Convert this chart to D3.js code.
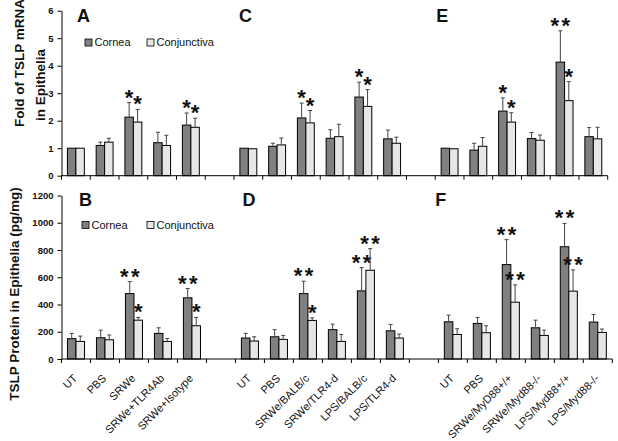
<!DOCTYPE html>
<html><head><meta charset="utf-8">
<script src="https://cdn.jsdelivr.net/npm/d3@7"></script>
<style>
body{margin:0;background:#fff;}
svg{display:block;font-family:"Liberation Sans",Arial,sans-serif;}
</style></head>
<body><svg id="c" width="618" height="441"></svg>
<script>
const categories = ["UT","PBS","SRWe","SRWe+TLR4Ab","SRWe+Isotype","",
  "UT","PBS","SRWe/BALB/c","SRWe/TLR4-d","LPS/BALB/c","LPS/TLR4-d","",
  "UT","PBS","SRWe/MyD88+/+","SRWe/Myd88-/-","LPS/Myd88+/+","LPS/Myd88-/-"];
const seriesNames = ["Cornea","Conjunctiva"];

const mrnaCornea    = [1.0,1.10,2.13,1.20,1.84,null, 1.0,1.07,2.10,1.36,2.86,1.34,null, 1.0,0.93,2.35,1.35,4.13,1.42];
const mrnaCorneaErr = [0,0.12,0.53,0.38,0.44,null, 0,0.11,0.54,0.31,0.54,0.32,null, 0,0.25,0.48,0.22,1.14,0.33];
const mrnaConj      = [1.0,1.22,1.95,1.10,1.76,null, 0.98,1.12,1.92,1.42,2.52,1.18,null, 0.98,1.07,1.95,1.29,2.73,1.34];
const mrnaConjErr   = [0,0.14,0.46,0.37,0.33,null, 0,0.25,0.45,0.45,0.61,0.22,null, 0,0.32,0.34,0.19,0.69,0.42];
const mrnaCorneaSig = ["","","*","","*","", "","","*","","*","","", "","","*","","**",""];
const mrnaConjSig   = ["","","*","","*","", "","","*","","*","","", "","","*","","*",""];

const protCornea    = [149,156,480,188,449,null, 154,163,480,215,500,207,null, 273,261,693,229,824,271];
const protCorneaErr = [39,56,88,41,68,null, 34,52,91,41,171,47,null, 49,44,183,56,171,56];
const protConj      = [129,141,285,129,244,null, 132,144,283,129,651,154,null, 180,193,417,173,498,195];
const protConjErr   = [39,35,20,22,61,null, 31,29,19,51,159,29,null, 42,51,127,39,156,25];
const protCorneaSig = ["","","**","","**","", "","","**","","**","","", "","","**","","**",""];
const protConjSig   = ["","","*","","*","", "","","*","","**","","", "","","**","","**",""];

const mrnaTicks = [0,1,2,3,4,5,6];
const protTicks = [0,200,400,600,800,1000,1200];
const panelLetters = [["A","C","E"],["B","D","F"]];
const panelSlots = [0,6,13];

const colors = {Cornea:"#808080", Conjunctiva:"#e6e6e6"};
const svg = d3.select("#c");
const idx = d3.range(categories.length);

function drawRow(cfg){
  const x = d3.scaleBand().domain(idx).range([cfg.x0, cfg.x1]).padding(0);
  const xs = d3.scaleBand().domain(seriesNames).range([0, x.bandwidth()]).paddingInner(0).paddingOuter(0.7);
  const y = d3.scaleLinear().domain(cfg.domain).range([cfg.yBase, cfg.yTop]);
  const g = svg.append("g");

  // y axis
  const ya = g.append("g").attr("transform",`translate(${cfg.x0},0)`)
    .call(d3.axisLeft(y).tickValues(cfg.ticks).tickFormat(d3.format("d")).tickSize(4).tickSizeOuter(0));
  ya.select(".domain").attr("stroke","#000");
  ya.selectAll(".tick line").attr("stroke","#000");
  ya.selectAll("text").attr("font-size",9.5).attr("font-weight","bold").attr("fill","#111")
    .attr("font-family",'"Liberation Sans",Arial,sans-serif').attr("x",-8);

  // bars
  const series = [
    {name:"Cornea", v:cfg.cornea, e:cfg.corneaErr, s:cfg.corneaSig},
    {name:"Conjunctiva", v:cfg.conj, e:cfg.conjErr, s:cfg.conjSig}
  ];
  series.forEach(sr=>{
    const pts = idx.filter(i=>sr.v[i]!=null).map(i=>({i, v:sr.v[i], e:sr.e[i], s:sr.s[i]}));
    const bx = d=>x(d.i)+xs(sr.name);
    const cx = d=>bx(d)+xs.bandwidth()/2;
    g.selectAll(null).data(pts).enter().append("rect")
      .attr("x",bx).attr("y",d=>y(d.v)).attr("width",xs.bandwidth())
      .attr("height",d=>y(0)-y(d.v)).attr("fill",colors[sr.name])
      .attr("stroke","#000").attr("stroke-width",1);
    const ep = pts.filter(d=>d.e>0);
    g.selectAll(null).data(ep).enter().append("line")
      .attr("x1",cx).attr("x2",cx).attr("y1",d=>y(d.v)).attr("y2",d=>y(d.v+d.e))
      .attr("stroke","#444").attr("stroke-width",1);
    g.selectAll(null).data(ep).enter().append("line")
      .attr("x1",d=>cx(d)-2).attr("x2",d=>cx(d)+2).attr("y1",d=>y(d.v+d.e)).attr("y2",d=>y(d.v+d.e))
      .attr("stroke","#444").attr("stroke-width",1);
    // significance stars
    pts.filter(d=>d.s).forEach(d=>{
      const n = d.s.length;
      const top = y(d.v+d.e);
      for(let k=0;k<n;k++){
        const off = n===1?0:(k===0?-5.5:5.5);
        g.append("text").attr("x",cx(d)+off).attr("y",top+2)
          .attr("text-anchor","middle").attr("font-size",22).attr("font-weight","bold")
          .attr("fill","#111").text("*");
      }
    });
  });

  // x axis
  g.append("line").attr("x1",cfg.x0).attr("x2",cfg.x1).attr("y1",y(0)).attr("y2",y(0)).attr("stroke","#000");
  const bounds = idx.map(i=>x(i)).concat([cfg.x1]);
  g.selectAll(null).data(bounds).enter().append("line")
    .attr("x1",d=>d).attr("x2",d=>d).attr("y1",y(0)).attr("y2",y(0)+4).attr("stroke","#000");

  if(cfg.labels){
    g.selectAll(null).data(idx.filter(i=>categories[i])).enter().append("text")
      .attr("transform",i=>`translate(${x(i)+x.bandwidth()/2+2},${y(0)+20}) rotate(-45)`)
      .attr("text-anchor","end").attr("font-size",11).attr("fill","#111")
      .text(i=>categories[i]);
  }

  // panel letters
  cfg.letters.forEach((L,k)=>{
    g.append("text").attr("x",x(panelSlots[k])+cfg.letterDx[k]).attr("y",cfg.letterY)
      .attr("font-size",18).attr("font-weight","bold").attr("fill","#111").text(L);
  });

  // legend
  const lg = g.append("g");
  [[cfg.legX[0],"Cornea"],[cfg.legX[1],"Conjunctiva"]].forEach(([lx,nm])=>{
    lg.append("rect").attr("x",lx).attr("y",cfg.legY-3.5).attr("width",7).attr("height",7)
      .attr("fill",colors[nm]).attr("stroke","#000").attr("stroke-width",0.8);
    lg.append("text").attr("x",lx+9.5).attr("y",cfg.legY).attr("dy","0.35em")
      .attr("font-size",11).attr("fill","#111").text(nm);
  });
}

drawRow({x0:61.5,x1:607.7,yBase:175.7,yTop:10.7,domain:[0,6],ticks:mrnaTicks,
  cornea:mrnaCornea,corneaErr:mrnaCorneaErr,conj:mrnaConj,conjErr:mrnaConjErr,
  corneaSig:mrnaCorneaSig,conjSig:mrnaConjSig,labels:false,
  letters:panelLetters[0],letterDx:[15.5,5,1],letterY:22,legX:[85,147],legY:42.5});
drawRow({x0:61.5,x1:612.3,yBase:359,yTop:195.5,domain:[0,1200],ticks:protTicks,
  cornea:protCornea,corneaErr:protCorneaErr,conj:protConj,conjErr:protConjErr,
  corneaSig:protCorneaSig,conjSig:protConjSig,labels:true,
  letters:panelLetters[1],letterDx:[17.5,7,-3],letterY:206,legX:[82,147],legY:225});

// y axis titles
svg.append("text").attr("transform","translate(23.5,63) rotate(-90)").attr("text-anchor","middle")
  .attr("font-size",13.5).attr("font-weight","bold").attr("fill","#111").text("Fold of TSLP mRNA");
svg.append("text").attr("transform","translate(45,85) rotate(-90)").attr("text-anchor","middle")
  .attr("font-size",13.5).attr("font-weight","bold").attr("fill","#111").text("in Epithelia");
svg.append("text").attr("transform","translate(18.5,294) rotate(-90)").attr("text-anchor","middle")
  .attr("font-size",13.5).attr("font-weight","bold").attr("fill","#111").text("TSLP Protein in Epithelia (pg/mg)");
</script></body></html>
